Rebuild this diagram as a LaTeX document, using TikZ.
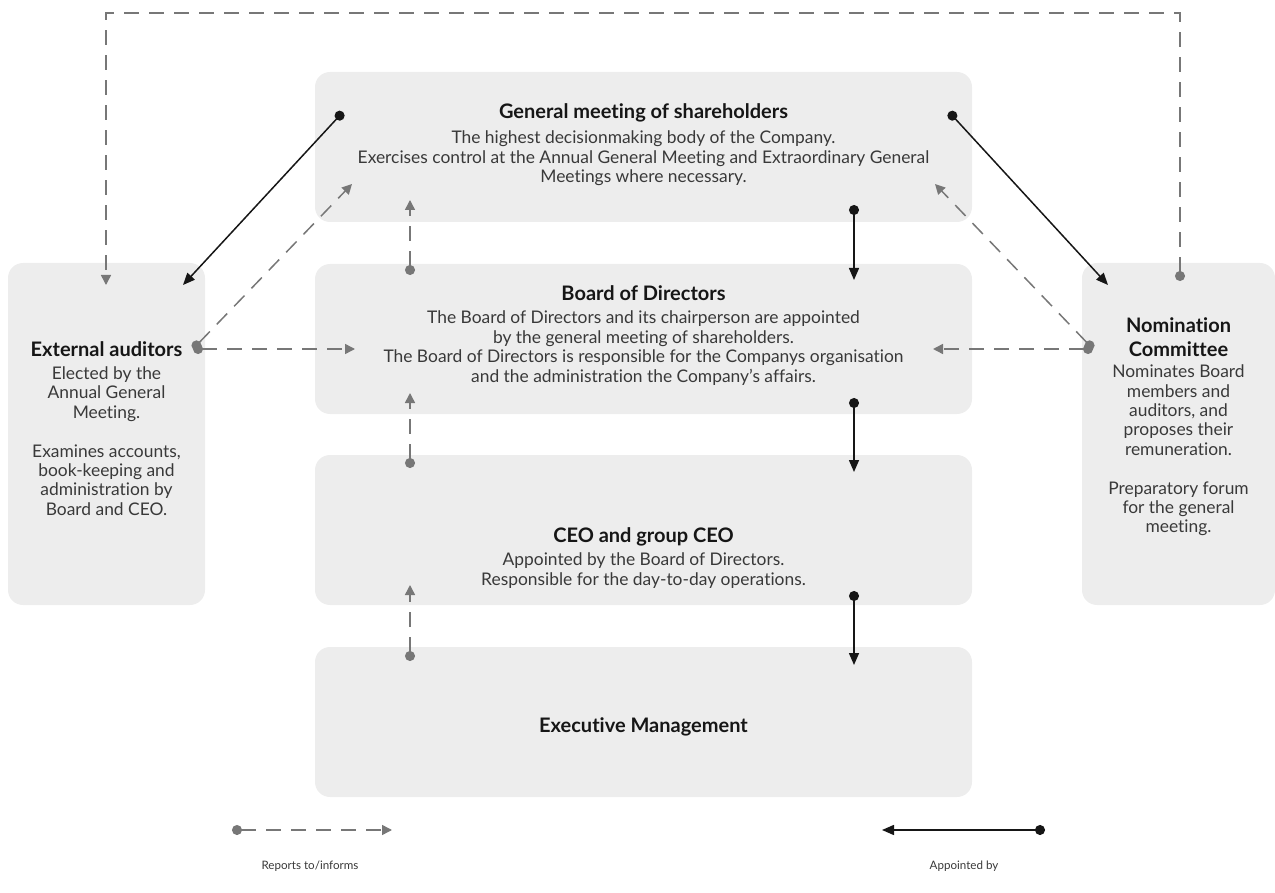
\documentclass[tikz,border=0pt]{standalone}
\usepackage{fontspec}
\setmainfont{Lato}[Ligatures=NoCommon]
\usepackage{xcolor}
\usepackage{tikz}
\usetikzlibrary{arrows.meta}
\definecolor{panelgray}{HTML}{EDEDED}
\definecolor{reportgray}{HTML}{777777}
\definecolor{inkblack}{HTML}{161616}

\begin{document}
\begin{tikzpicture}[x=0.5pt, y=-0.5pt,
        panel/.style={fill=panelgray, rounded corners=7.5pt, inner sep=0pt},
        heading/.style={font=\fontsize{10}{12}\selectfont\bfseries, text=inkblack, align=center},
        body/.style={font=\fontsize{8.7}{9.7}\selectfont, text=inkblack!85, align=center},
        legend/.style={font=\fontsize{5.8}{7}\selectfont, text=inkblack!85},
        reports/.style={reportgray, line width=0.75pt, dash pattern=on 7.5pt off 5pt,
            {Circle[length=5pt]}-{Triangle[length=5pt,width=5pt]}},
        appoints/.style={inkblack, line width=0.75pt,
            {Circle[length=5pt]}-{Triangle[length=6pt,width=5pt]}}]
        \useasboundingbox (0,0) rectangle (1275,893);

        % Panels
        \node[panel, minimum width=328.5pt, minimum height=75pt] (gm) at (643.5,147) {};
        \node[panel, minimum width=328.5pt, minimum height=75pt] (bod) at (643.5,339) {};
        \node[panel, minimum width=328.5pt, minimum height=75pt] (ceo) at (643.5,530) {};
        \node[panel, minimum width=328.5pt, minimum height=75pt] (exm) at (643.5,722) {};
        \node[panel, minimum width=98.5pt, minimum height=171pt] (aud) at (106.5,434) {};
        \node[panel, minimum width=96.5pt, minimum height=171pt] (nom) at (1178.5,434) {};

        % Connector ends
        \coordinate (gmL) at (343,112);
        \coordinate (gmR) at (949,112);
        \coordinate (gmD) at (854,205);
        \coordinate (gmUp) at (410,200);
        \coordinate (gmSW) at (352,184);
        \coordinate (gmSE) at (935,184);
        \coordinate (bodU) at (854,280);
        \coordinate (bodD) at (854,398);
        \coordinate (bodTop) at (410,275);
        \coordinate (bodDn) at (410,393);
        \coordinate (bodL) at (355,349);
        \coordinate (bodR) at (933,349);
        \coordinate (ceoU) at (854,472);
        \coordinate (ceoD) at (854,591);
        \coordinate (ceoTop) at (410,468);
        \coordinate (ceoDn) at (410,585);
        \coordinate (exmU) at (854,665);
        \coordinate (exmTop) at (410,661);
        \coordinate (audIn) at (183,285);
        \coordinate (audTop) at (106,285);
        \coordinate (audR) at (193,349);
        \coordinate (nomIn) at (1108,285);
        \coordinate (nomTop) at (1180,281);
        \coordinate (nomL) at (1093,349);
        \coordinate (loop) at (643,13);

        % Reports to/informs
        \draw[reports] (nomTop) |- (loop) -| (audTop);
        \draw[reports] (audR) -- (bodL);
        \draw[reports] (audR) -- (gmSW);
        \draw[reports] (nomL) -- (bodR);
        \draw[reports] (nomL) -- (gmSE);
        \draw[reports] (bodTop) -- (gmUp);
        \draw[reports] (ceoTop) -- (bodDn);
        \draw[reports] (exmTop) -- (ceoDn);

        % Appointed by
        \draw[appoints] (gmL) -- (audIn);
        \draw[appoints] (gmR) -- (nomIn);
        \draw[appoints] (gmD) -- (bodU);
        \draw[appoints] (bodD) -- (ceoU);
        \draw[appoints] (ceoD) -- (exmU);

        % Texts
        \node[heading] (gmT) at (643.5,113) {General meeting of shareholders};
        \node[body] (gmB) at (643.5,158.5) {The highest decisionmaking body of the Company.\\
            Exercises control at the Annual General Meeting and Extraordinary General\\
            Meetings where necessary.};
        \node[heading] (bodT) at (643.5,293) {Board of Directors};
        \node[body] (bodB) at (643.5,348) {The Board of Directors and its chairperson are appointed\\
            by the general meeting of shareholders.\\
            The Board of Directors is responsible for the Companys organisation\\
            and the administration the Company’s affairs.};
        \node[heading] (ceoT) at (643.5,537) {CEO and group CEO};
        \node[body] (ceoB) at (643.5,570.5) {Appointed by the Board of Directors.\\
            Responsible for the day-to-day operations.};
        \node[heading] (exmT) at (643.5,727) {Executive Management};
        \node[heading] (audT) at (106.5,349) {External auditors};
        \node[body] (audB) at (106.5,441) {Elected by the\\ Annual General\\ Meeting.\\[9.7pt]
            Examines accounts,\\ book-keeping and\\ administration by\\ Board and CEO.};
        \node[heading] (nomT) at (1178.5,337) {Nomination\\ Committee};
        \node[body] (nomB) at (1178.5,450.5) {Nominates Board\\ members and\\ auditors, and\\
            proposes their\\ remuneration.\\[9.7pt] Preparatory forum\\ for the general\\ meeting.};

        % Legend
        \coordinate (lgA) at (232,830);
        \coordinate (lgB) at (392,830);
        \coordinate (lgC) at (1045,830);
        \coordinate (lgD) at (882,830);
        \draw[reports] (lgA) -- (lgB);
        \draw[appoints] (lgC) -- (lgD);
        \node[legend] (lgR) at (310,866) {Reports to/informs};
        \node[legend] (lgP) at (964,866) {Appointed by};
    \end{tikzpicture}
\end{document}
